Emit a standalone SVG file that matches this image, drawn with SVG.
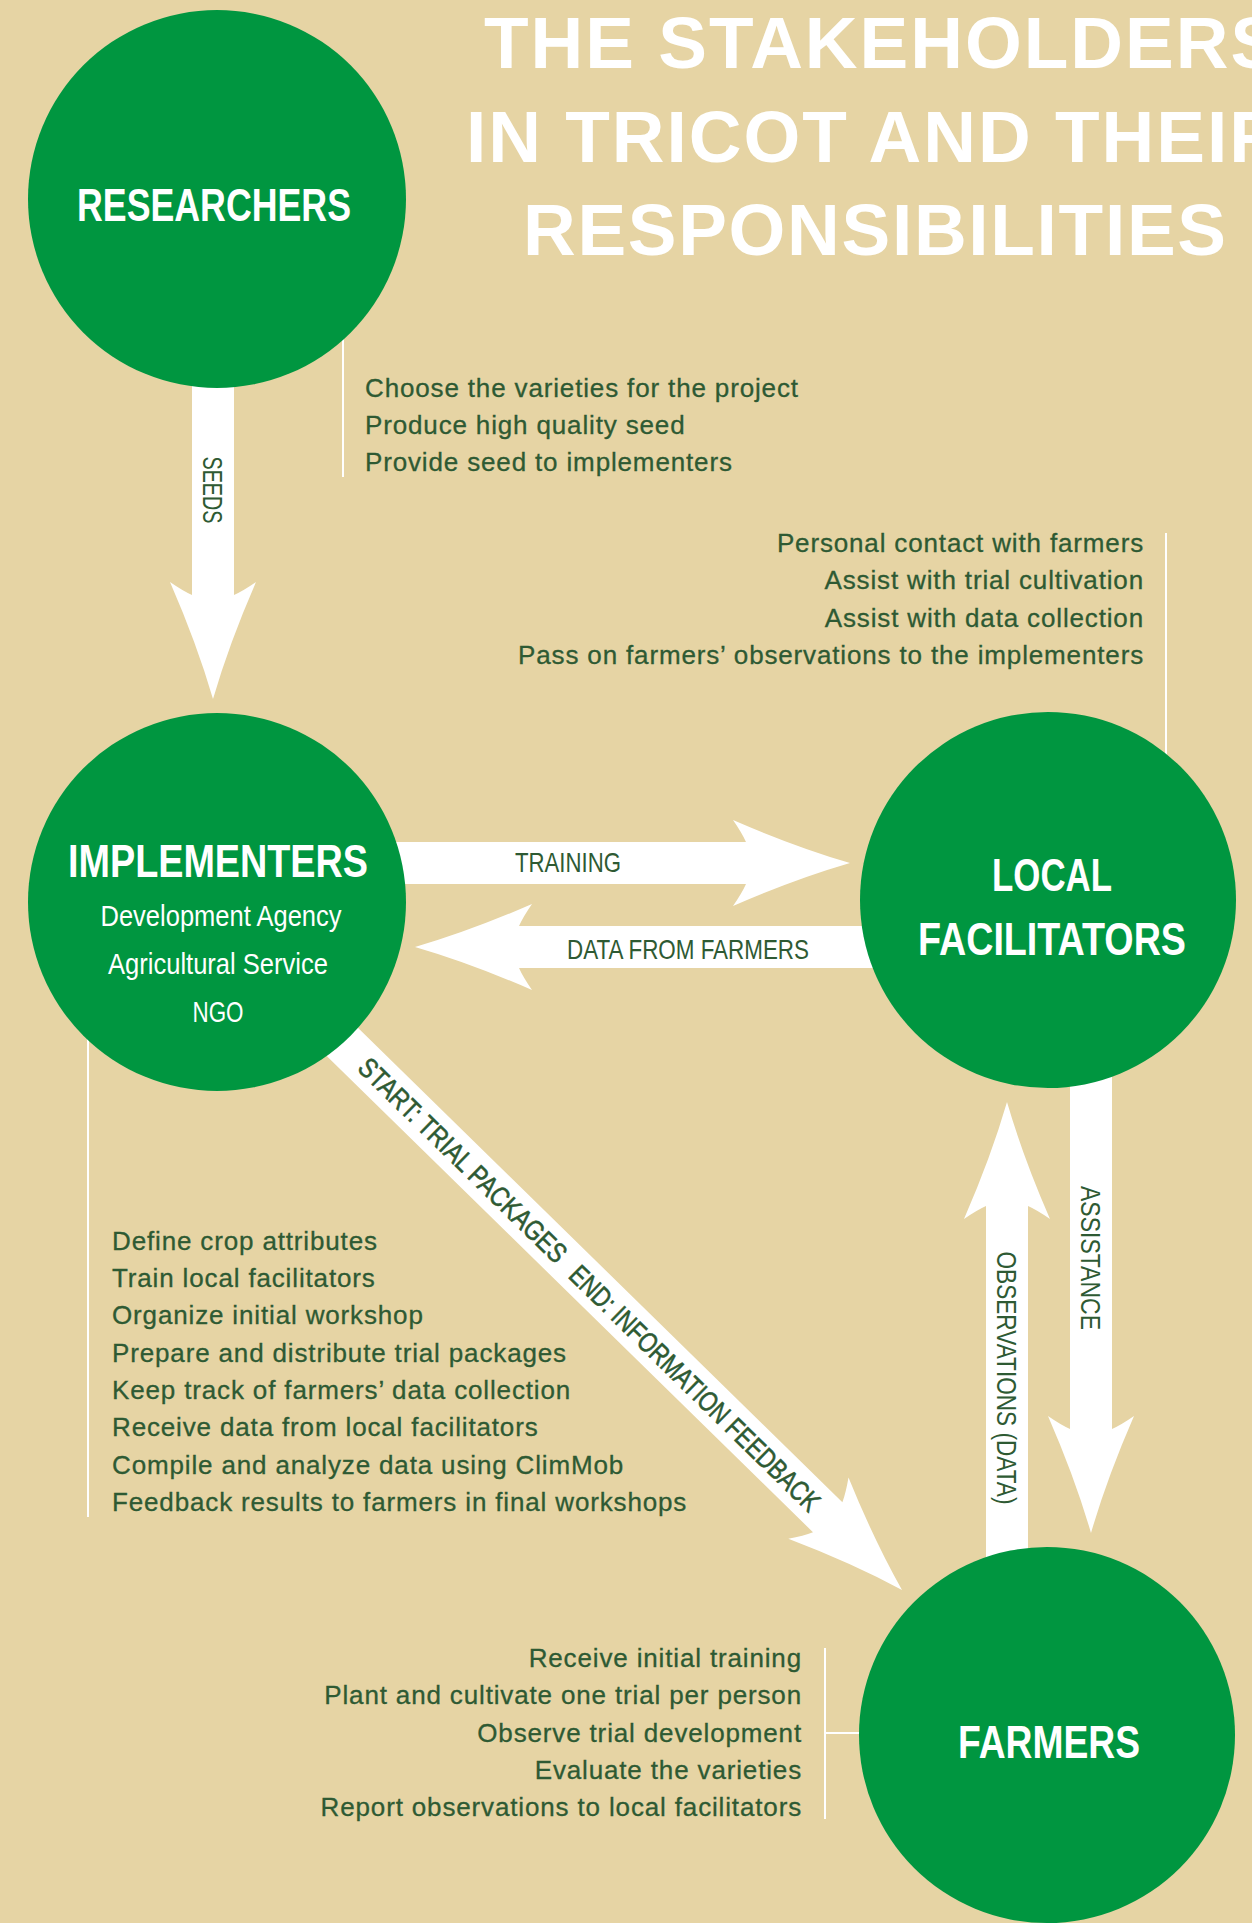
<svg xmlns="http://www.w3.org/2000/svg" width="1252" height="1923" viewBox="0 0 1252 1923">
<style>
.bg{fill:#e6d4a4}
.circle{fill:#009640}
.arrow{fill:#ffffff}
.rule{stroke:#ffffff;stroke-width:2;fill:none}
.title{font-family:"Liberation Sans",Arial,sans-serif;font-weight:bold;font-size:73px;fill:#ffffff;letter-spacing:2px}
.node{font-family:"Liberation Sans Narrow","Liberation Sans",Arial,sans-serif;font-weight:bold;font-size:47px;fill:#ffffff;text-anchor:middle}
.sub{font-family:"Liberation Sans Narrow","Liberation Sans",Arial,sans-serif;font-size:29px;fill:#ffffff;text-anchor:middle}
.lbl{font-family:"Liberation Sans Narrow","Liberation Sans",Arial,sans-serif;font-size:28px;fill:#2e5a33;text-anchor:middle}
.diag{stroke:#2e5a33;stroke-width:0.6px}
.list{font-family:"Liberation Sans",Arial,sans-serif;font-size:26px;fill:#2e5a33;letter-spacing:0.85px;stroke:#2e5a33;stroke-width:0.3px}
.end{text-anchor:end}
</style>
<rect class="bg" x="0" y="0" width="1252" height="1923"/>

<g id="title">
<text class="title" x="484" y="68">THE STAKEHOLDERS</text>
<text class="title" x="466" y="162">IN TRICOT AND THEIR</text>
<text class="title" x="523" y="255" textLength="705" lengthAdjust="spacing">RESPONSIBILITIES</text>
</g>

<g id="connectors">
<path class="arrow" transform="translate(213,699) rotate(90)" d="M0,0 Q-55,-16 -117,-43 Q-108,-30 -104,-21 L-340,-21 L-340,21 L-104,21 Q-108,30 -117,43 Q-55,16 0,0 Z"/>
<path class="arrow" transform="translate(850,863)" d="M0,0 Q-55,-16 -117,-43 Q-108,-30 -104,-21 L-470,-21 L-470,21 L-104,21 Q-108,30 -117,43 Q-55,16 0,0 Z"/>
<path class="arrow" transform="translate(415,947) rotate(180)" d="M0,0 Q-55,-16 -117,-43 Q-108,-30 -104,-21 L-470,-21 L-470,21 L-104,21 Q-108,30 -117,43 Q-55,16 0,0 Z"/>
<path class="arrow" transform="translate(1091,1533) rotate(90)" d="M0,0 Q-55,-16 -117,-43 Q-108,-30 -104,-21 L-470,-21 L-470,21 L-104,21 Q-108,30 -117,43 Q-55,16 0,0 Z"/>
<path class="arrow" transform="translate(1007,1102) rotate(-90)" d="M0,0 Q-55,-16 -117,-43 Q-108,-30 -104,-21 L-470,-21 L-470,21 L-104,21 Q-108,30 -117,43 Q-55,16 0,0 Z"/>
<path class="arrow" transform="translate(902,1590) rotate(44.4)" d="M0,0 Q-55,-16 -117,-43 Q-108,-30 -104,-21 L-800,-21 L-800,21 L-104,21 Q-108,30 -117,43 Q-55,16 0,0 Z"/>
<text class="lbl" transform="translate(213,490) rotate(90)" x="0" y="10" textLength="67" lengthAdjust="spacingAndGlyphs">SEEDS</text>
<text class="lbl" x="568" y="872" textLength="106" lengthAdjust="spacingAndGlyphs">TRAINING</text>
<text class="lbl" x="688" y="959" textLength="242" lengthAdjust="spacingAndGlyphs">DATA FROM FARMERS</text>
<text class="lbl" transform="translate(1091,1258) rotate(90)" x="0" y="10" textLength="144" lengthAdjust="spacingAndGlyphs">ASSISTANCE</text>
<text class="lbl" transform="translate(1007,1378) rotate(90)" x="0" y="10" textLength="253" lengthAdjust="spacingAndGlyphs">OBSERVATIONS (DATA)</text>
<text class="lbl diag" transform="translate(463,1160) rotate(44.4)" x="0" y="10" textLength="279" lengthAdjust="spacingAndGlyphs">START: TRIAL PACKAGES</text>
<text class="lbl diag" transform="translate(695,1388) rotate(44.4)" x="0" y="10" textLength="338" lengthAdjust="spacingAndGlyphs">END: INFORMATION FEEDBACK</text>
</g>

<g id="researchers">
<line class="rule" x1="343" y1="330" x2="343" y2="477"/>
<circle class="circle" cx="217" cy="199" r="189"/>
<text class="node" x="214" y="221" textLength="274" lengthAdjust="spacingAndGlyphs">RESEARCHERS</text>
<text class="list" x="365" y="397">Choose the varieties for the project</text>
<text class="list" x="365" y="434">Produce high quality seed</text>
<text class="list" x="365" y="471">Provide seed to implementers</text>
</g>

<g id="implementers">
<line class="rule" x1="88" y1="1030" x2="88" y2="1517"/>
<circle class="circle" cx="217" cy="902" r="189"/>
<text class="node" x="218" y="877" textLength="300" lengthAdjust="spacingAndGlyphs">IMPLEMENTERS</text>
<text class="sub" x="221" y="926" textLength="241" lengthAdjust="spacingAndGlyphs">Development Agency</text>
<text class="sub" x="218" y="974" textLength="220" lengthAdjust="spacingAndGlyphs">Agricultural Service</text>
<text class="sub" x="218" y="1022" textLength="51" lengthAdjust="spacingAndGlyphs">NGO</text>
<text class="list" x="112" y="1250">Define crop attributes</text>
<text class="list" x="112" y="1287">Train local facilitators</text>
<text class="list" x="112" y="1324">Organize initial workshop</text>
<text class="list" x="112" y="1362">Prepare and distribute trial packages</text>
<text class="list" x="112" y="1399">Keep track of farmers’ data collection</text>
<text class="list" x="112" y="1436">Receive data from local facilitators</text>
<text class="list" x="112" y="1474">Compile and analyze data using ClimMob</text>
<text class="list" x="112" y="1511">Feedback results to farmers in final workshops</text>
</g>

<g id="local-facilitators">
<line class="rule" x1="1166" y1="533" x2="1166" y2="764"/>
<circle class="circle" cx="1048" cy="900" r="188"/>
<text class="node" x="1052" y="891" textLength="120" lengthAdjust="spacingAndGlyphs">LOCAL</text>
<text class="node" x="1052" y="955" textLength="268" lengthAdjust="spacingAndGlyphs">FACILITATORS</text>
<text class="list end" x="1144" y="552">Personal contact with farmers</text>
<text class="list end" x="1144" y="589">Assist with trial cultivation</text>
<text class="list end" x="1144" y="627">Assist with data collection</text>
<text class="list end" x="1144" y="664">Pass on farmers’ observations to the implementers</text>
</g>

<g id="farmers">
<line class="rule" x1="825" y1="1648" x2="825" y2="1819"/>
<line class="rule" x1="825" y1="1733" x2="870" y2="1733"/>
<circle class="circle" cx="1047" cy="1735" r="188"/>
<text class="node" x="1049" y="1758" textLength="182" lengthAdjust="spacingAndGlyphs">FARMERS</text>
<text class="list end" x="802" y="1667">Receive initial training</text>
<text class="list end" x="802" y="1704">Plant and cultivate one trial per person</text>
<text class="list end" x="802" y="1742">Observe trial development</text>
<text class="list end" x="802" y="1779">Evaluate the varieties</text>
<text class="list end" x="802" y="1816">Report observations to local facilitators</text>
</g>
</svg>
